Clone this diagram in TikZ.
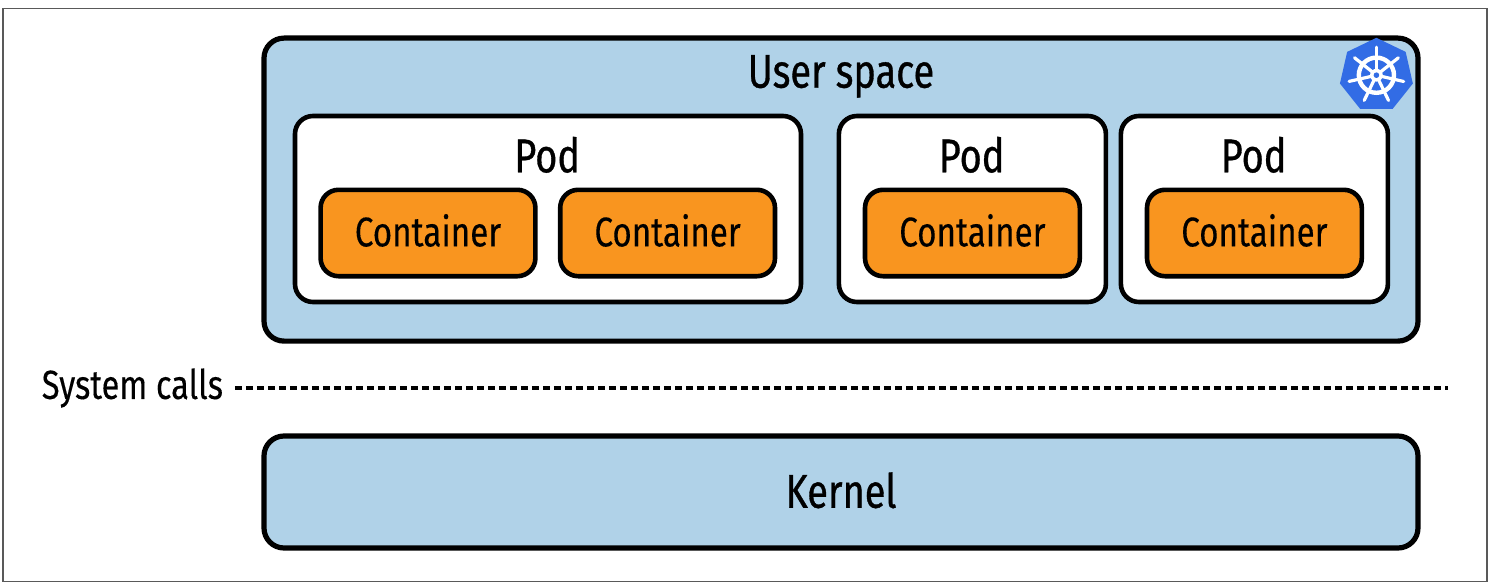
\documentclass[tikz,border=0pt]{standalone}
\usepackage{fontspec}
\setmainfont{Fira Sans}[FakeStretch=0.8,FakeBold=0.25]
\newfontfamily\bigfont{Fira Sans}[FakeStretch=0.8,FakeBold=0.7]
\usetikzlibrary{shapes.geometric}
\definecolor{spaceblue}{HTML}{B0D2E8}
\definecolor{boxorange}{HTML}{F9951F}
\definecolor{helmblue}{HTML}{326CE5}
\tikzset{ 
   panel/.style     = {draw, rounded corners=5mm, line width=1.3mm, fill=spaceblue},
   podbox/.style    = {draw, rounded corners=4.5mm, line width=1.15mm, fill=white},
   containerbox/.style = {draw, rounded corners=4.5mm, line width=1.15mm, fill=boxorange,
                          text depth=1.4mm, font=\fontsize{29.5}{29.5}\selectfont},
   biglabel/.style  = {font=\bigfont\fontsize{33.7}{33.7}\selectfont},
   dashline/.style  = {-, line width=0.85mm, dash pattern=on 1.7mm off 1.05mm},
   wheel/.style     = {white, line width=1.1mm},
}
\begin{document}
\begin{tikzpicture} 

      \useasboundingbox (0mm,0mm) rectangle (372.5mm,-145.5mm);

      \node[
         draw=black!65,
         line width=0.3mm,
         minimum width=371mm,
         minimum height=143.3mm,
      ] (frame) at (186.25mm,-73.75mm){};

      % user space
      \node[
         panel,
         minimum width=288.5mm,
         minimum height=75.75mm,
      ] (user) at (210.25mm,-47.4mm){};
      \node[biglabel] (userlabel) at (210.25mm,-19.1mm){User space};

      % pods
      \node[
         podbox,
         minimum width=126.5mm,
         minimum height=46.5mm,
      ] (podA) at (137mm,-52.25mm){};
      \node[
         podbox,
         minimum width=66.75mm,
         minimum height=46.5mm,
      ] (podB) at (243.1mm,-52.25mm){};
      \node[
         podbox,
         minimum width=66.75mm,
         minimum height=46.5mm,
      ] (podC) at (313.6mm,-52.25mm){};
      \node[biglabel] (podAlabel) at (136.8mm,-38.7mm){Pod};
      \node[biglabel] (podBlabel) at (242.9mm,-38.7mm){Pod};
      \node[biglabel] (podClabel) at (313.4mm,-38.7mm){Pod};

      % containers
      \node[containerbox, minimum width=53.7mm, minimum height=21.6mm] (contA) at (107mm,-58.25mm){Container};
      \node[containerbox, minimum width=53.7mm, minimum height=21.6mm] (contB) at (166.9mm,-58.25mm){Container};
      \node[containerbox, minimum width=53.7mm, minimum height=21.6mm] (contC) at (243.1mm,-58.25mm){Container};
      \node[containerbox, minimum width=53.7mm, minimum height=21.6mm] (contD) at (313.6mm,-58.25mm){Container};

      % system calls
      \node[font=\fontsize{29}{29}\selectfont] (syscalls) at (33.1mm,-97mm){System calls};
      \coordinate (dashstart) at (58.7mm,-97mm);
      \coordinate (dashend) at (362mm,-97mm);
      \draw[dashline] (dashstart) -- (dashend);

      % kernel
      \node[
         panel,
         biglabel,
         text depth=1mm,
         minimum width=288.5mm,
         minimum height=28mm,
      ] (kernel) at (210.25mm,-123mm){Kernel};

      % helm icon
      \node[
         regular polygon,
         regular polygon sides=7,
         fill=helmblue,
         inner sep=0mm,
         minimum size=18.7mm,
      ] (helm) at (344.1mm,-18.8mm){};
      \begin{scope}[shift={(helm.center)}]
         \draw[wheel] (0,0) circle (4.4mm);
         \foreach \a in {90,141.4,...,400}
            \draw[wheel, line width=0.8mm, line cap=round] (\a:1mm) -- (\a:7mm);
         \fill[white] (0,0) circle (1.6mm);
         \fill[helmblue] (0,0) circle (0.7mm);
      \end{scope}

   \end{tikzpicture}
\end{document}
